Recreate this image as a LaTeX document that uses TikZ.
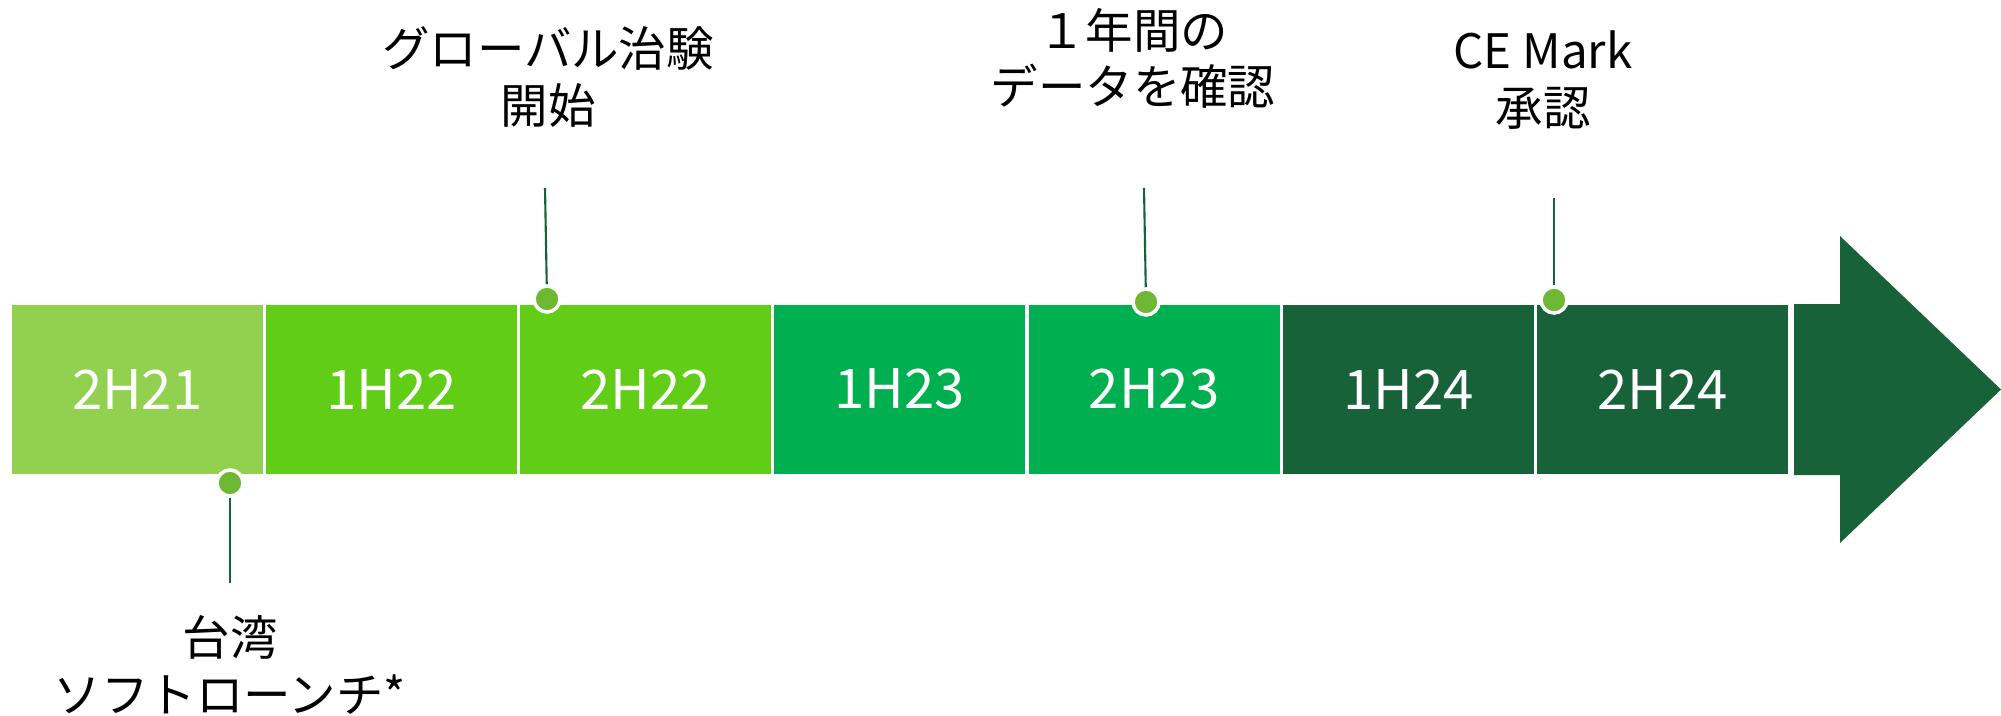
\documentclass[tikz,border=0pt]{standalone}
\usepackage{fontspec}
\setmainfont{Noto Sans CJK JP}

\definecolor{lightgrn}{HTML}{92D050}
\definecolor{limegrn}{HTML}{61CD16}
\definecolor{midgrn}{HTML}{00B050}
\definecolor{darkgrn}{HTML}{176238}
\definecolor{dotgrn}{HTML}{6EB833}
\definecolor{stemgrn}{HTML}{17613A}

\begin{document}
\begin{tikzpicture}[x=0.01cm,y=-0.01cm,
  period/.style={anchor=north west,minimum width=2.51cm,minimum height=1.69cm,
    inner sep=0pt,text=white,font=\fontsize{15.5pt}{15.5pt}\selectfont},
  dot/.style={circle,fill=dotgrn,draw=white,line width=1pt,minimum size=0.26cm,inner sep=0pt},
  stem/.style={draw=stemgrn,line width=0.6pt},
  event/.style={align=center,font=\fontsize{13.5pt}{16pt}\selectfont}]
  \useasboundingbox (0,0) rectangle (2001,715);

  \foreach \lab/\col [count=\i from 0] in
      {2H21/lightgrn,1H22/limegrn,2H22/limegrn,1H23/midgrn,2H23/midgrn,1H24/darkgrn,2H24/darkgrn}
    \node[period,fill=\col] (h\i) at ({11+254.2*\i},304) {\lab};

  \fill[darkgrn] (1794,304) -- (1840,304) -- (1840,236) -- (2001,389.5)
    -- (1840,543) -- (1840,475) -- (1794,475) -- cycle;

  \node[dot] (m1) at (230,483) {};
  \node[dot] (m2) at (547,299) {};
  \node[dot] (m3) at (1146,302) {};
  \node[dot] (m4) at (1554,300) {};

  \coordinate (s1) at (230,583);
  \coordinate (s2) at (545,188);
  \coordinate (s3) at (1144,188);
  \coordinate (s4) at (1554,198);
  \draw[stem] (m1) -- (s1);
  \draw[stem] (m2) -- (s2);
  \draw[stem] (m3) -- (s3);
  \draw[stem] (m4) -- (s4);

  \node[event] (e1) at (230,665) {台湾\\ソフトローンチ*};
  \node[event] (e2) at (548,77) {グローバル治験\\開始};
  \node[event] (e3) at (1133,58) {１年間の\\データを確認};
  \node[event] (e4) at (1543,80) {CE Mark\\承認};
\end{tikzpicture}
\end{document}
